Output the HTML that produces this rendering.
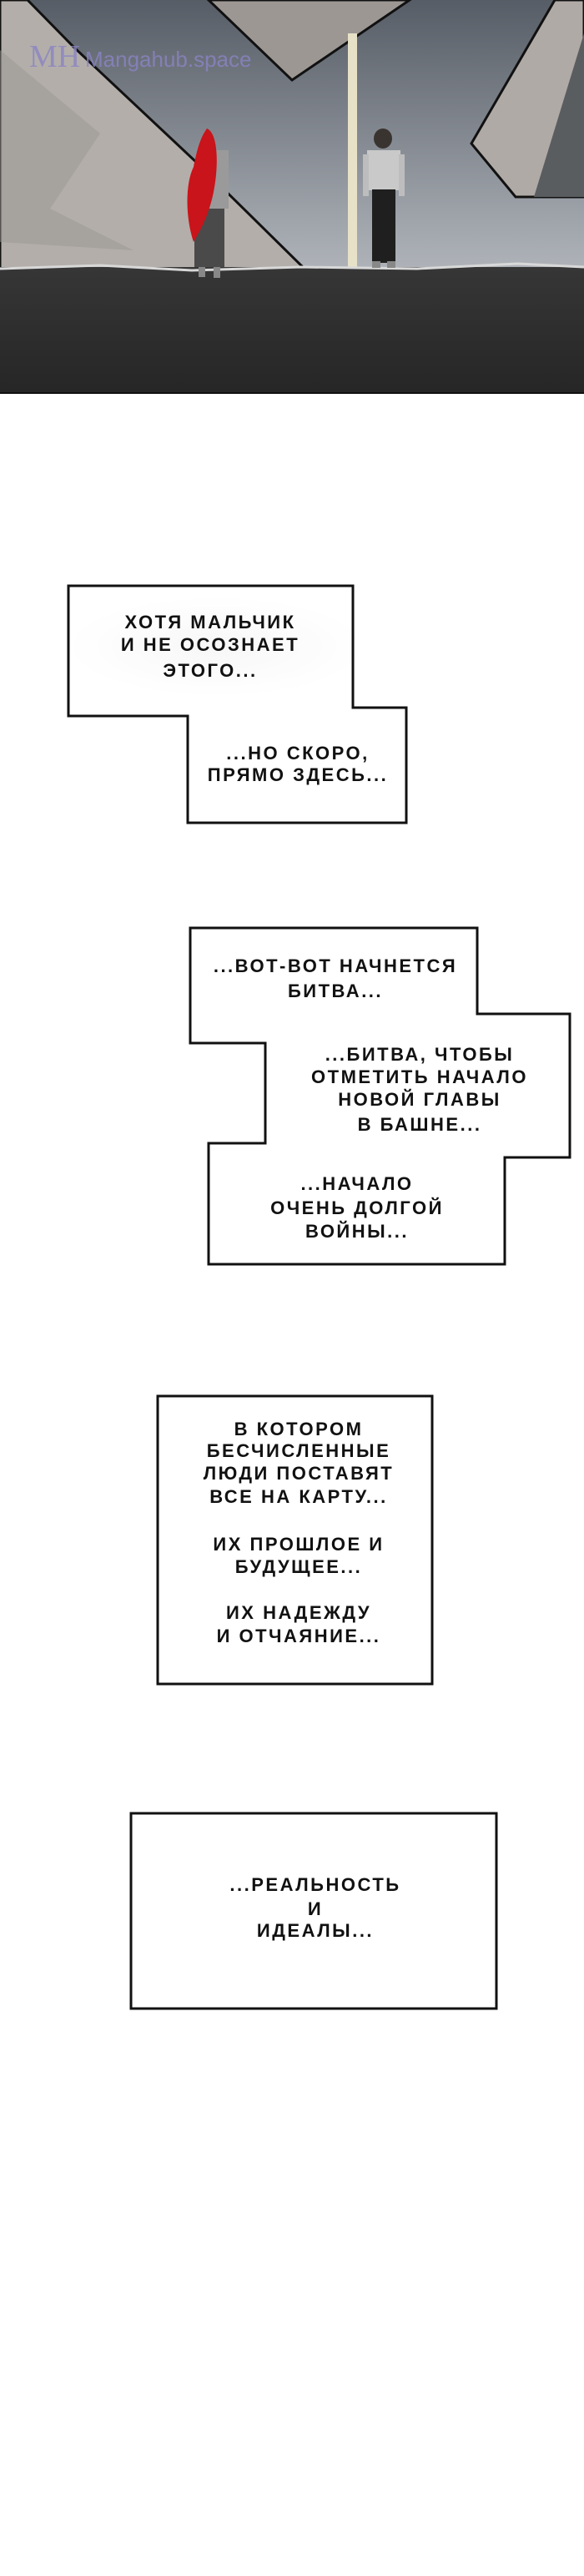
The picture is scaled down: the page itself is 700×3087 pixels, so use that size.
<!DOCTYPE html>
<html><head><meta charset="utf-8"><style>
html,body{margin:0;padding:0;background:#fff}
body{width:700px;height:3087px;overflow:hidden;position:relative}
svg{display:block}
.t{font-family:"Liberation Sans",sans-serif;font-weight:bold;font-size:22px;letter-spacing:2.5px;fill:#111;text-anchor:middle}
</style></head><body>
<svg width="700" height="3087" viewBox="0 0 700 3087" xmlns="http://www.w3.org/2000/svg">
<defs>
<linearGradient id="sky" x1="0" y1="0" x2="0" y2="1">
<stop offset="0" stop-color="#575d66"/><stop offset="0.55" stop-color="#9ea3aa"/><stop offset="1" stop-color="#d6d8db"/>
</linearGradient>
<linearGradient id="fl" x1="0" y1="0" x2="0" y2="1">
<stop offset="0" stop-color="#363636"/><stop offset="1" stop-color="#262626"/>
</linearGradient>
<radialGradient id="glow" cx="0.5" cy="0.5" r="0.5"><stop offset="0" stop-color="#f7f7f7"/><stop offset="1" stop-color="#fff"/></radialGradient>
</defs>
<rect x="0" y="0" width="700" height="472" fill="url(#sky)"/>
<polygon points="0,0 33,0 89,57 237,196 366,323 0,323" fill="#b3aeaa" stroke="#111" stroke-width="3"/>
<polygon points="0,60 120,160 60,250 160,300 0,290" fill="#9a9591" opacity="0.5"/>
<polygon points="250,0 350,96 491,0" fill="#9c9793" stroke="#111" stroke-width="3"/>
<polygon points="665,0 565,172 618,236 700,236 700,0" fill="#b0aaa6" stroke="#111" stroke-width="3"/>
<polygon points="700,40 640,236 700,236" fill="#5a5d60"/>
<rect x="417" y="40" width="11" height="282" fill="#e7e1c8"/>
<rect x="0" y="320" width="700" height="152" fill="url(#fl)"/>
<path d="M0,322 L120,318 L230,324 L360,320 L500,322 L620,316 L700,320" stroke="#d8d8d8" stroke-width="3" fill="none"/>
<rect x="0" y="470" width="700" height="2" fill="#111"/>
<rect x="233" y="240" width="36" height="80" fill="#4a4a4a"/>
<rect x="238" y="320" width="8" height="12" fill="#888"/><rect x="256" y="320" width="8" height="13" fill="#888"/>
<rect x="240" y="180" width="34" height="70" fill="#9a9a9a"/>
<path d="M248,154 C262,160 262,200 256,230 C250,260 238,280 232,290 C222,260 222,220 232,200 C236,180 240,165 248,154Z" fill="#c8141a"/>
<ellipse cx="459" cy="166" rx="11" ry="12" fill="#3a3430"/>
<rect x="440" y="180" width="40" height="48" fill="#c9c9c9"/>
<rect x="435" y="185" width="7" height="50" fill="#bdbdbd"/><rect x="478" y="185" width="7" height="50" fill="#bdbdbd"/>
<rect x="446" y="227" width="28" height="88" fill="#1f1f1f"/>
<rect x="446" y="313" width="10" height="8" fill="#888"/><rect x="464" y="313" width="10" height="8" fill="#888"/>
<text x="35" y="80" font-family="Liberation Serif,serif" font-size="38" fill="#8a84c4" opacity="0.8">MH</text>
<text x="102" y="80" font-family="Liberation Sans,sans-serif" font-size="26" fill="#8a84c4" opacity="0.8">Mangahub.space</text>

<ellipse cx="260" cy="775" rx="180" ry="60" fill="url(#glow)"/>
<polygon points="82,702 423,702 423,848 487,848 487,986 225,986 225,858 82,858" fill="none" stroke="#111" stroke-width="3"/>
<text class="t" x="252" y="753">ХОТЯ МАЛЬЧИК</text>
<text class="t" x="252" y="780">И НЕ ОСОЗНАЕТ</text>
<text class="t" x="252" y="811">ЭТОГО...</text>
<text class="t" x="357" y="910">...НО СКОРО,</text>
<text class="t" x="357" y="936">ПРЯМО ЗДЕСЬ...</text>

<polygon points="228,1112 572,1112 572,1215 683,1215 683,1387 605,1387 605,1515 250,1515 250,1370 318,1370 318,1250 228,1250" fill="none" stroke="#111" stroke-width="3"/>
<text class="t" x="402" y="1165">...ВОТ-ВОТ НАЧНЕТСЯ</text>
<text class="t" x="402" y="1195">БИТВА...</text>
<text class="t" x="503" y="1271">...БИТВА, ЧТОБЫ</text>
<text class="t" x="503" y="1298">ОТМЕТИТЬ НАЧАЛО</text>
<text class="t" x="503" y="1325">НОВОЙ ГЛАВЫ</text>
<text class="t" x="503" y="1355">В БАШНЕ...</text>
<text class="t" x="428" y="1426">...НАЧАЛО</text>
<text class="t" x="428" y="1455">ОЧЕНЬ ДОЛГОЙ</text>
<text class="t" x="428" y="1483">ВОЙНЫ...</text>

<rect x="189" y="1673" width="329" height="345" fill="none" stroke="#111" stroke-width="3"/>
<text class="t" x="358" y="1720">В КОТОРОМ</text>
<text class="t" x="358" y="1746">БЕСЧИСЛЕННЫЕ</text>
<text class="t" x="358" y="1773">ЛЮДИ ПОСТАВЯТ</text>
<text class="t" x="358" y="1801">ВСЕ НА КАРТУ...</text>
<text class="t" x="358" y="1858">ИХ ПРОШЛОЕ И</text>
<text class="t" x="358" y="1885">БУДУЩЕЕ...</text>
<text class="t" x="358" y="1940">ИХ НАДЕЖДУ</text>
<text class="t" x="358" y="1968">И ОТЧАЯНИЕ...</text>

<rect x="157" y="2173" width="438" height="234" fill="none" stroke="#111" stroke-width="3"/>
<text class="t" x="378" y="2266">...РЕАЛЬНОСТЬ</text>
<text class="t" x="378" y="2295">И</text>
<text class="t" x="378" y="2321">ИДЕАЛЫ...</text>
</svg>
</body></html>
